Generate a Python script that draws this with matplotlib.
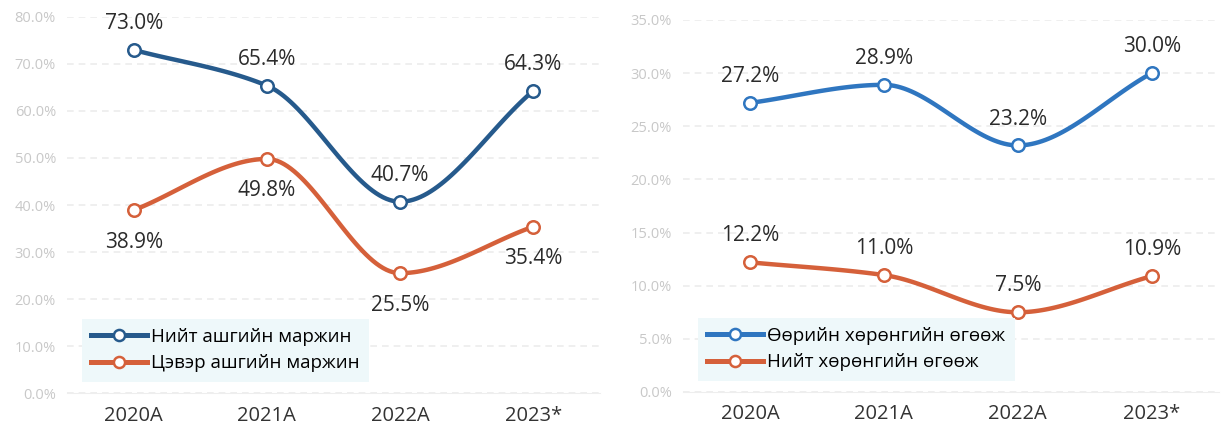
import numpy as np
import matplotlib
matplotlib.use("Agg")
import matplotlib.pyplot as plt
from matplotlib.ticker import FuncFormatter

plt.rcParams['font.family'] = ['Open Sans', 'DejaVu Sans']

years = ['2020A', '2021A', '2022A', '2023*']

# left chart: margins
gross_margin = [73.0, 65.4, 40.7, 64.3]
net_margin = [38.9, 49.8, 25.5, 35.4]
left_names = ['Нийт ашгийн маржин', 'Цэвэр ашгийн маржин']

# right chart: returns
roe = [27.2, 28.9, 23.2, 30.0]
roa = [12.2, 11.0, 7.5, 10.9]
right_names = ['Өөрийн хөрөнгийн өгөөж', 'Нийт хөрөнгийн өгөөж']

DARK_BLUE = '#265a8c'
BLUE = '#2f76c0'
ORANGE = '#d5603a'


def smooth(x, y, n=40):
    # monotone cubic (pchip-like) curve through the points, only for drawing
    x = np.asarray(x, float)
    y = np.asarray(y, float)
    h = np.diff(x)
    d = np.diff(y) / h
    m = np.zeros_like(y)
    m[0], m[-1] = d[0], d[-1]
    for i in range(1, len(y) - 1):
        if d[i - 1] * d[i] > 0:
            m[i] = 2 / (1 / d[i - 1] + 1 / d[i])
    xs, ys = [], []
    t = np.linspace(0, 1, n)
    for i in range(len(x) - 1):
        h00 = 2 * t ** 3 - 3 * t ** 2 + 1
        h10 = t ** 3 - 2 * t ** 2 + t
        h01 = -2 * t ** 3 + 3 * t ** 2
        h11 = t ** 3 - t ** 2
        xs.extend(x[i] + t * h[i])
        ys.extend(h00 * y[i] + h10 * h[i] * m[i] + h01 * y[i + 1] + h11 * h[i] * m[i + 1])
    return xs, ys


def draw(ax, series, colors, names, label_pos, ymax, step):
    x = np.arange(len(years))
    for vals, col, name, pos in zip(series, colors, names, label_pos):
        sx, sy = smooth(x, vals)
        ax.plot(sx, sy, color=col, lw=3.2, solid_capstyle='round', zorder=3)
        ax.plot(x, vals, 'o', ms=9, mfc='white', mec=col, mew=1.8, zorder=4)
        ax.plot([], [], '-o', color=col, lw=3.6, ms=8, mfc='white',
                mec=col, mew=1.8, label=name)
        for xi, v, p in zip(x, vals, pos):
            off = 19 if p == 'up' else -23
            ax.annotate(f'{v:.1f}%', (xi, v), xytext=(0, off),
                        textcoords='offset points', ha='center', va='center',
                        fontsize=15, color='#2b2b2b')
    ax.set_xlim(-0.5, len(years) - 0.5)
    ax.set_ylim(0, ymax)
    ax.set_yticks(np.arange(0, ymax + 0.1, step))
    ax.yaxis.set_major_formatter(FuncFormatter(lambda v, _: f'{v:.1f}%'))
    ax.set_xticks(x)
    ax.set_xticklabels(years)
    ax.tick_params(axis='y', length=0, labelsize=10.5, labelcolor='#c8c8c8', pad=8)
    ax.tick_params(axis='x', length=0, labelsize=14.5, labelcolor='#333333', pad=9)
    ax.grid(axis='y', color='#ececec', lw=1.2, ls=(0, (4, 3)))
    ax.set_axisbelow(True)
    for s in ['top', 'right', 'left']:
        ax.spines[s].set_visible(False)
    ax.spines['bottom'].set_color('#eeeeee')
    leg = ax.legend(loc='lower left', bbox_to_anchor=(0.01, 0.005), fontsize=13.5,
                    handlelength=3.0, frameon=True, fancybox=False,
                    borderpad=0.5, labelspacing=0.45, handletextpad=0.2)
    leg.get_frame().set_facecolor('#eef8fa')
    leg.get_frame().set_edgecolor('none')
    leg.get_frame().set_alpha(1)


fig = plt.figure(figsize=(12.23, 4.3), dpi=100)
ax1 = fig.add_axes([0.0548, 0.086, 0.4358, 0.8745])
ax2 = fig.add_axes([0.5585, 0.0884, 0.438, 0.8651])

draw(ax1, [gross_margin, net_margin], [DARK_BLUE, ORANGE], left_names,
     [['up'] * 4, ['down'] * 4], 80, 10)
draw(ax2, [roe, roa], [BLUE, ORANGE], right_names,
     [['up'] * 4, ['up'] * 4], 35, 5)

fig.savefig('out.png', dpi=100)
